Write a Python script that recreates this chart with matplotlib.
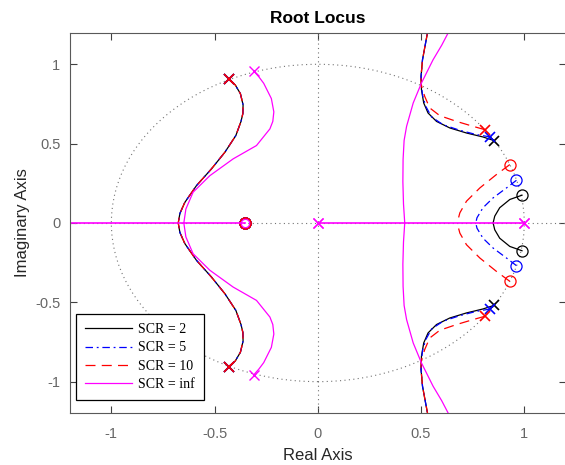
import matplotlib
matplotlib.use("Agg")
import matplotlib.pyplot as plt
from matplotlib.patches import Circle

# ---- data (upper half plane; lower half is the mirror) ----
# SCR = 2 (black)
k_left_x = [-0.431, -0.400, -0.375, -0.362, -0.363, -0.372, -0.397, -0.450, -0.515, -0.588, -0.644, -0.668, -0.676]
k_left_y = [0.905, 0.870, 0.815, 0.745, 0.690, 0.640, 0.551, 0.446, 0.341, 0.235, 0.130, 0.060, 0.0]
k_right_x = [0.854, 0.800, 0.720, 0.639, 0.575, 0.534, 0.513, 0.502, 0.500, 0.507, 0.520, 0.534]
k_right_y = [0.519, 0.542, 0.567, 0.599, 0.640, 0.693, 0.756, 0.840, 0.923, 1.028, 1.120, 1.217]
k_inner_x = [0.989, 0.930, 0.881, 0.857, 0.849]
k_inner_y = [0.175, 0.148, 0.096, 0.043, 0.0]

# SCR = 5 (blue)
b_left_x = [-0.431, -0.400, -0.375, -0.362, -0.363, -0.372, -0.397, -0.450, -0.515, -0.588, -0.644, -0.668, -0.676]
b_left_y = [0.905, 0.870, 0.815, 0.745, 0.690, 0.640, 0.551, 0.446, 0.341, 0.235, 0.130, 0.060, 0.0]
b_right_x = [0.836, 0.768, 0.688, 0.607, 0.551, 0.523, 0.508, 0.502, 0.500, 0.507, 0.520, 0.534]
b_right_y = [0.542, 0.557, 0.584, 0.619, 0.668, 0.735, 0.800, 0.860, 0.923, 1.028, 1.120, 1.217]
b_inner_x = [0.962, 0.914, 0.849, 0.800, 0.771, 0.765]
b_inner_y = [0.269, 0.221, 0.158, 0.096, 0.033, 0.0]

# SCR = 10 (red)
r_left_x = [-0.431, -0.400, -0.375, -0.362, -0.363, -0.372, -0.397, -0.450, -0.515, -0.588, -0.644, -0.668, -0.676]
r_left_y = [0.905, 0.870, 0.815, 0.745, 0.690, 0.640, 0.551, 0.446, 0.341, 0.235, 0.130, 0.060, 0.0]
r_right_x = [0.809, 0.752, 0.672, 0.591, 0.542, 0.518, 0.505, 0.500, 0.500, 0.507, 0.520, 0.534]
r_right_y = [0.588, 0.609, 0.640, 0.676, 0.725, 0.797, 0.850, 0.880, 0.923, 1.028, 1.120, 1.217]
r_inner_x = [0.930, 0.865, 0.785, 0.720, 0.688, 0.675]
r_inner_y = [0.368, 0.305, 0.221, 0.137, 0.064, 0.0]

# SCR = inf (magenta)
m_left_x = [-0.310, -0.285, -0.262, -0.225, -0.213, -0.218, -0.232, -0.297, -0.410, -0.523, -0.604, -0.639, -0.649]
m_left_y = [0.957, 0.920, 0.880, 0.784, 0.700, 0.640, 0.593, 0.488, 0.404, 0.298, 0.194, 0.088, 0.0]
m_right_x = [0.421, 0.415, 0.412, 0.413, 0.418, 0.430, 0.462, 0.502, 0.558, 0.600, 0.639]
m_right_y = [0.0, 0.120, 0.260, 0.400, 0.520, 0.609, 0.756, 0.882, 1.028, 1.120, 1.217]
m_axis_left = [-1.2, -0.354]
m_axis_mid = [0.0, 1.0]

# poles and zeros
k_poles = [(-0.431, 0.905), (0.854, 0.519)]
b_poles = [(-0.431, 0.905), (0.836, 0.542)]
r_poles = [(-0.431, 0.905), (0.809, 0.588)]
m_poles = [(-0.310, 0.957), (0.0, 0.0), (1.0, 0.0)]
k_zeros = [(0.989, 0.175), (-0.354, 0.0)]
b_zeros = [(0.962, 0.269), (-0.354, 0.0)]
r_zeros = [(0.930, 0.368), (-0.354, 0.0)]
m_zeros = [(-0.354, 0.0)]

fig = plt.figure(figsize=(5.65, 4.65), dpi=100)
ax = fig.add_axes([0.124, 0.111, 0.877, 0.819])

grid_kw = dict(color="0.45", linestyle=(0, (1, 3)), linewidth=0.8)
ax.add_patch(Circle((0, 0), 1.0, fill=False, **grid_kw))
ax.axhline(0, **grid_kw)
ax.axvline(0, **grid_kw)

series = [
    ("SCR = 2", "k", "-", k_left_x, k_left_y, k_right_x, k_right_y, k_inner_x, k_inner_y, k_poles, k_zeros),
    ("SCR = 5", "b", (0, (6, 3, 1.5, 3)), b_left_x, b_left_y, b_right_x, b_right_y, b_inner_x, b_inner_y, b_poles, b_zeros),
    ("SCR = 10", "r", (0, (8, 5)), r_left_x, r_left_y, r_right_x, r_right_y, r_inner_x, r_inner_y, r_poles, r_zeros),
]

handles = []
for label, color, ls, lx, ly, rx, ry, ix, iy, poles, zeros in series:
    h, = ax.plot(lx, ly, color=color, linestyle=ls, linewidth=0.9, label=label)
    ax.plot(lx, [-v for v in ly], color=color, linestyle=ls, linewidth=0.9)
    for xs, ys in [(rx, ry), (ix, iy)]:
        ax.plot(xs, ys, color=color, linestyle=ls, linewidth=0.9)
        ax.plot(xs, [-v for v in ys], color=color, linestyle=ls, linewidth=0.9)
    for px, py in poles:
        ax.plot([px, px], [py, -py], linestyle="none", marker="x", markersize=7,
                markeredgewidth=1.2, color=color)
    for zx, zy in zeros:
        ax.plot([zx, zx], [zy, -zy], linestyle="none", marker="o", markersize=8,
                markerfacecolor="none", markeredgewidth=0.9, color=color)
    handles.append(h)

mc = (1, 0, 1)
h, = ax.plot(m_left_x, m_left_y, color=mc, linewidth=0.9, label="SCR = inf")
ax.plot(m_left_x, [-v for v in m_left_y], color=mc, linewidth=0.9)
ax.plot(m_right_x, m_right_y, color=mc, linewidth=0.9)
ax.plot(m_right_x, [-v for v in m_right_y], color=mc, linewidth=0.9)
ax.plot(m_axis_left, [0, 0], color=mc, linewidth=1.2)
ax.plot(m_axis_mid, [0, 0], color=mc, linewidth=1.2)
for px, py in m_poles:
    ax.plot([px, px], [py, -py], linestyle="none", marker="x", markersize=6.5,
            markeredgewidth=1.0, color=mc)
for zx, zy in m_zeros:
    ax.plot([zx], [zy], linestyle="none", marker="o", markersize=6,
            markerfacecolor="none", markeredgewidth=0.9, color=mc)
handles.append(h)

ax.set_xlim(-1.2, 1.2)
ax.set_ylim(-1.2, 1.2)
ax.set_xticks([-1, -0.5, 0, 0.5, 1])
ax.set_xticklabels(["-1", "-0.5", "0", "0.5", "1"])
ax.set_yticks([-1, -0.5, 0, 0.5, 1])
ax.set_yticklabels(["-1", "-0.5", "0", "0.5", "1"])

ax.tick_params(direction="in", length=5, width=0.8, top=True, right=True,
               labelsize=10.5, colors="0.25", labelcolor="0.4")
ax.tick_params(axis="x", pad=10)
ax.tick_params(axis="y", pad=7)
for side in ax.spines.values():
    side.set_color("0.35")
    side.set_linewidth(0.8)

ax.set_title("Root Locus", fontsize=12.5, fontweight="bold", family="Liberation Sans", pad=7)
ax.set_xlabel("Real Axis", fontsize=12, color="0.15", family="Liberation Sans", labelpad=5)
ax.set_ylabel("Imaginary Axis", fontsize=12, color="0.15", family="Liberation Sans", labelpad=4)
for lab in ax.get_xticklabels() + ax.get_yticklabels():
    lab.set_family("Liberation Sans")

leg = ax.legend(handles=handles, loc="lower left", bbox_to_anchor=(0.012, 0.035),
                borderaxespad=0, fancybox=False, edgecolor="k", framealpha=1,
                handlelength=3.4, handletextpad=0.4,
                prop={"family": "Liberation Serif", "size": 10},
                labelspacing=0.38, borderpad=0.65)
leg.get_frame().set_linewidth(0.9)

fig.savefig("out.png", dpi=100)
